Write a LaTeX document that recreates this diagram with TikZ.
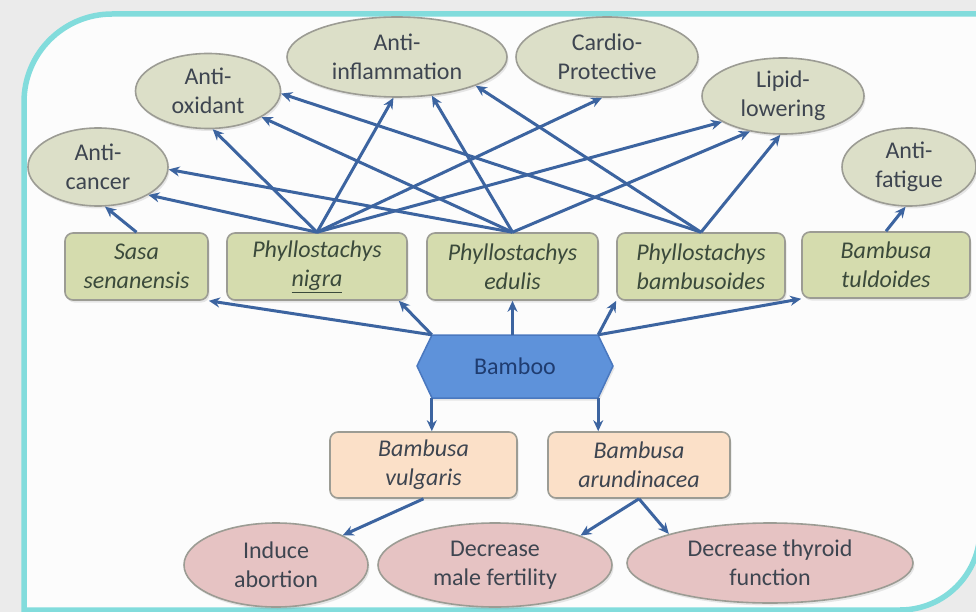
\documentclass[tikz,border=0pt]{standalone}
\usepackage{fontspec}
\setmainfont{Carlito}
\usetikzlibrary{shapes.geometric,arrows.meta,shadows}
\definecolor{outergray}{HTML}{EBEBEB}
\definecolor{frame}{HTML}{82DCDC}
\definecolor{inner}{HTML}{FCFCFC}
\definecolor{effill}{HTML}{DCDFC8}
\definecolor{spfill}{HTML}{D5DCAE}
\definecolor{peach}{HTML}{FBE0C8}
\definecolor{pink}{HTML}{E6C3C3}
\definecolor{bord}{HTML}{9C9C94}
\definecolor{bamfill}{HTML}{5E92DA}
\definecolor{bamdraw}{HTML}{4A78BF}
\definecolor{bamtext}{HTML}{1F3C70}
\definecolor{arrowc}{HTML}{3C64A0}
\definecolor{txt}{HTML}{3E4550}
\definecolor{sptxt}{HTML}{3B4A3B}
\tikzset{
  basefont/.style={font=\fontsize{24}{29}\selectfont, align=center, inner sep=0pt},
  eff/.style={basefont, ellipse, draw=bord, line width=1.6pt, fill=effill, text=txt,
    drop shadow={opacity=0.18, shadow xshift=1.5pt, shadow yshift=-2.5pt}},
  bad/.style={eff, fill=pink},
  spbox/.style={basefont, rectangle, rounded corners=8pt, draw=bord, line width=1.6pt,
    fill=spfill, text=sptxt, font=\fontsize{24}{29}\selectfont\itshape,
    drop shadow={opacity=0.18, shadow xshift=1.5pt, shadow yshift=-2.5pt}},
  pbox/.style={spbox, fill=peach, text=txt},
  conn/.style={draw=arrowc, line width=3pt, -{Stealth[length=11pt,width=10pt]}},
}
\begin{document}
\begin{tikzpicture}[x=1pt,y=-1pt]
\useasboundingbox (0,0) rectangle (976,612);
\clip (0,0) rectangle (976,612);
\fill[outergray] (0,0) rectangle (976,612);
\draw[frame, line width=5.5pt, fill=inner]
  (24,620) -- (24,102) .. controls (24,53.4) and (63.4,14) .. (112,14)
  -- (990,14) -- (980,14) -- (980,530) .. controls (980,574.2) and (944.2,610) .. (900,610)
  -- (24,610) -- cycle;

% effect ellipses (top)
\node[eff, minimum width=140pt, minimum height=78pt] (ac) at (98,167) {Anti-\\cancer};
\node[eff, minimum width=145pt, minimum height=75pt] (ao) at (208,91) {Anti-\\oxidant};
\node[eff, minimum width=220pt, minimum height=80pt] (ai) at (397,57) {Anti-\\inflammation};
\node[eff, minimum width=182pt, minimum height=80pt] (cp) at (607,57) {Cardio-\\Protective};
\node[eff, minimum width=162pt, minimum height=76pt] (ll) at (783,96) {Lipid-\\lowering};
\node[eff, minimum width=134pt, minimum height=78pt] (af) at (909,167) {Anti-\\fatigue};

% species boxes
\node[spbox, minimum width=143pt, minimum height=67pt] (ss) at (136.5,266.5) {Sasa\\senanensis};
\node[spbox, minimum width=180pt, minimum height=67pt] (pn) at (317,266.5) {Phyllostachys\\\underline{nigra}};
\node[spbox, minimum width=171pt, minimum height=67pt] (pe) at (512.5,266.5) {Phyllostachys\\edulis};
\node[spbox, minimum width=168pt, minimum height=67pt] (pb) at (701,266.5) {Phyllostachys\\bambusoides};
\node[spbox, minimum width=168pt, minimum height=66pt] (bt) at (886,265) {Bambusa\\tuldoides};

% Bamboo
\draw[fill=bamfill, draw=bamdraw, line width=1.5pt,
  drop shadow={opacity=0.18, shadow xshift=1.5pt, shadow yshift=-2.5pt}]
  (417,366) -- (432,335) -- (598,335) -- (613,366) -- (598,398) -- (432,398) -- cycle;
\node[basefont, minimum width=166pt, minimum height=63pt, text=bamtext] (bamboo) at (515,366.5) {Bamboo};

% lower boxes
\node[pbox, minimum width=187pt, minimum height=66pt] (bv) at (423.5,465) {Bambusa\\vulgaris};
\node[pbox, minimum width=182pt, minimum height=66pt] (ba) at (639,465) {Bambusa\\arundinacea};

% lower ellipses
\node[bad, minimum width=184pt, minimum height=84pt] (ia) at (276,565) {Induce\\abortion};
\node[bad, minimum width=234pt, minimum height=84pt] (dm) at (495,565) {Decrease\\male fertility};
\node[bad, minimum width=286pt, minimum height=80pt] (dt) at (770,563) {Decrease thyroid\\function};

% species -> effects
\draw[conn] (ss.north) -- (ac.-80);
\draw[conn] (pn.north) -- (ac.-29);
\draw[conn] (pn.north) -- (ao.-83);
\draw[conn] (pn.north) -- (ai.-95);
\draw[conn] (pn.north) -- (cp.-97);
\draw[conn] (pn.north) -- (ll.-157);
\draw[conn] (pe.north) -- (ac.-2);
\draw[conn] (pe.north) -- (ao.-26);
\draw[conn] (pe.north) -- (ai.-48);
\draw[conn] (pe.north) -- (ll.-133);
\draw[conn] (pb.north) -- (ao.-2);
\draw[conn] (pb.north) -- (ai.-20);
\draw[conn] (pb.north) -- (ll.-94);
\draw[conn] (bt.north) -- (af.-95);

% bamboo -> species
\draw[conn] (bamboo.north west) -- (ss.south east);
\draw[conn] (bamboo.north west) -- ([xshift=-9pt]pn.south east);
\draw[conn] (bamboo.north -| pe.south) -- (pe.south);
\draw[conn] (bamboo.north east) -- (pb.south west);
\draw[conn] (bamboo.north east) -- (bt.south west);
\draw[conn] (bamboo.south west) -- (bamboo.south west |- bv.north);
\draw[conn] (bamboo.south east) -- (bamboo.south east |- ba.north);

% lower effects
\draw[conn] (bv.south) -- (ia.24);
\draw[conn] (ba.south) -- (dm.19);
\draw[conn] (ba.south) -- (dt.164);
\end{tikzpicture}
\end{document}
